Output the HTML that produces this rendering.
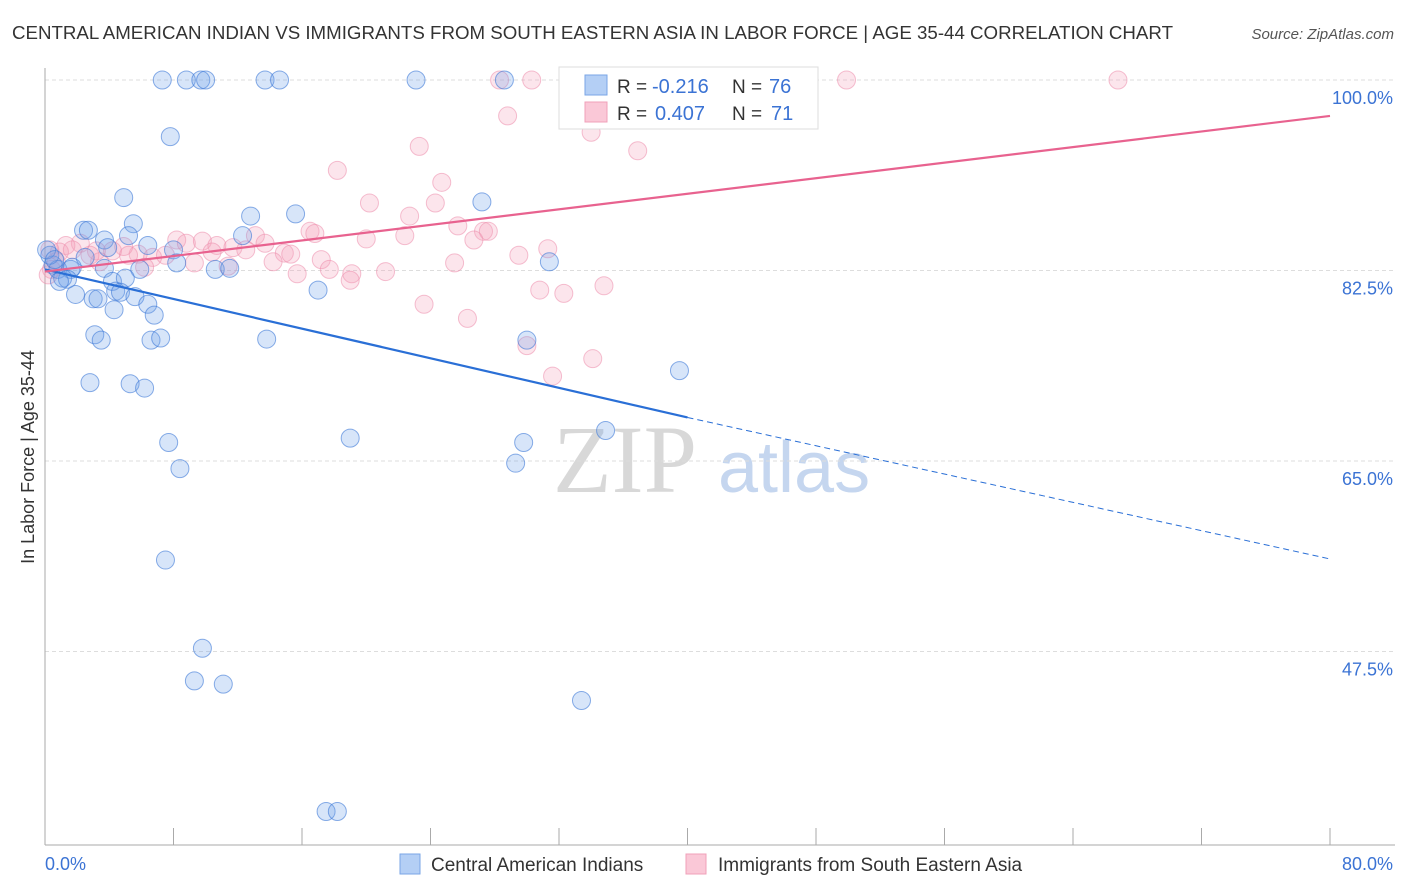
<!DOCTYPE html>
<html><head><meta charset="utf-8"><style>
body{margin:0;background:#fff;font-family:"Liberation Sans",sans-serif;}
svg{display:block}
</style></head><body>
<svg id="chart" width="1406" height="892">
<text x="12" y="39" font-size="18" fill="#333" textLength="1161" lengthAdjust="spacingAndGlyphs">CENTRAL AMERICAN INDIAN VS IMMIGRANTS FROM SOUTH EASTERN ASIA IN LABOR FORCE | AGE 35-44 CORRELATION CHART</text>
<text x="1394" y="39" font-size="15" font-style="italic" fill="#555" text-anchor="end">Source: ZipAtlas.com</text>
<g>
<text x="553" y="492" font-size="96" font-family="Liberation Serif,serif" fill="#d8d8d8">ZIP</text>
<text x="718" y="492" font-size="72" fill="#c5d6ef">atlas</text>
</g>
<g id="grid"></g>
<g id="axes"></g>
<g id="points"></g>
<g id="lines"></g>
<g>
<rect x="559" y="67" width="259" height="62" fill="#fff" stroke="#ddd"/>
<rect x="585" y="75" width="22" height="20" fill="#b4cff5" stroke="#7aa6e6"/>
<text x="617" y="93" font-size="19" fill="#333">R = </text><text x="652" y="93" font-size="20" fill="#3b73d4">-0.216</text>
<text x="732" y="93" font-size="19" fill="#333">N = </text><text x="769" y="93" font-size="20" fill="#3b73d4">76</text>
<rect x="585" y="102" width="22" height="20" fill="#fac8d7" stroke="#f0a0ba"/>
<text x="617" y="120" font-size="19" fill="#333">R = </text><text x="655" y="120" font-size="20" fill="#3b73d4">0.407</text>
<text x="732" y="120" font-size="19" fill="#333">N = </text><text x="771" y="120" font-size="20" fill="#3b73d4">71</text>
</g>
<text transform="translate(34,457) rotate(-90)" font-size="18" fill="#333" text-anchor="middle">In Labor Force | Age 35-44</text>
<text x="45" y="870" font-size="18" fill="#3b73d4">0.0%</text>
<text x="1393" y="870" font-size="18" fill="#3b73d4" text-anchor="end">80.0%</text>
<g>
<rect x="400" y="854" width="20" height="20" fill="#b4cff5" stroke="#7aa6e6"/>
<text x="431" y="871" font-size="19" fill="#333">Central American Indians</text>
<rect x="686" y="854" width="20" height="20" fill="#fac8d7" stroke="#f0a0ba"/>
<text x="718" y="871" font-size="19" fill="#333">Immigrants from South Eastern Asia</text>
</g>
</svg>
<script>
const yTicks=[100,82.5,65,47.5];
const yTickLabels=["100.0%","82.5%","65.0%","47.5%"];
const xTicks=[0,8,16,24,32,40,48,56,64,72,80];
const blueX=[7.3,8.8,9.7,10.0,13.7,14.6,23.1,28.6,7.8,4.9,12.8,15.6,27.2,5.5,2.4,2.7,5.2,3.7,12.3,6.4,3.9,8.0,8.2,31.4,10.6,11.5,3.7,5.9,0.5,0.8,1.6,1.7,1.1,1.4,0.9,2.5,4.2,5.0,1.9,3.0,3.3,4.4,4.7,5.6,6.4,6.8,4.3,17.0,3.1,3.5,6.6,7.2,13.8,30.0,39.5,2.8,5.3,6.2,7.7,19.0,29.8,34.9,8.4,29.3,7.5,9.8,9.3,11.1,33.4,17.5,18.2,0.3,0.1,0.6];
const blueY=[100,100,100,100,100,100,100,100,94.8,89.2,87.5,87.7,88.8,86.8,86.2,86.2,85.7,85.3,85.7,84.8,84.6,84.4,83.2,83.3,82.6,82.7,82.7,82.6,83.0,82.6,82.6,82.8,81.8,81.7,81.5,83.7,81.5,81.8,80.3,79.9,79.9,80.6,80.5,80.1,79.4,78.4,78.9,80.7,76.6,76.1,76.1,76.3,76.2,76.1,73.3,72.2,72.1,71.7,66.7,67.1,66.7,67.8,64.3,64.8,55.9,47.8,44.8,44.5,43.0,32.8,32.8,83.9,84.4,83.5];
const pinkX=[28.3,30.3,43.2,49.9,66.8,28.8,34.0,36.9,23.3,18.2,24.7,20.2,24.3,22.7,25.7,16.5,16.8,22.4,20.0,27.3,27.6,26.7,31.3,29.5,8.2,8.8,9.8,10.7,11.7,13.1,13.7,14.9,15.3,12.5,10.4,5.8,6.7,7.5,4.9,4.2,3.2,2.2,1.3,0.9,1.7,0.3,9.3,11.4,14.2,15.7,17.2,17.7,19.1,19.0,21.2,25.5,30.8,32.3,34.8,23.6,26.3,30.0,31.6,34.1,6.2,5.2,3.4,0.7,0.4,0.2,2.8];
const pinkY=[100,100,100,100,100,96.7,95.2,93.5,93.9,91.7,90.6,88.7,88.7,87.5,86.6,86.1,85.9,85.7,85.4,86.1,86.1,85.3,84.5,83.9,85.3,85.0,85.2,84.8,84.6,85.7,85.0,84.1,84.0,84.4,84.2,84.0,83.7,83.9,84.7,84.3,84.3,85.0,84.8,84.2,84.4,84.4,83.2,82.9,83.3,82.2,83.5,82.6,82.2,81.6,82.4,83.2,80.7,80.4,81.1,79.4,78.1,75.6,72.8,74.4,82.8,83.9,83.3,83.3,82.6,82.1,83.9];
const blueTrend=[82.6,69.0,56.0]; // at x=0,40,80
const pinkTrend=[82.4,96.7]; // at x=0,80
const NS='http://www.w3.org/2000/svg';
function xs(v){return 45+v*(1330-45)/80;}
function ys(v){return 80+(100-v)*190.5/17.5;}
function mk(tag,attrs,parent){const e=document.createElementNS(NS,tag);for(const k in attrs)e.setAttribute(k,attrs[k]);document.getElementById(parent).appendChild(e);return e;}
yTicks.forEach((t,i)=>{
 const l=mk('line',{x1:45,x2:1395,y1:ys(t),y2:ys(t),stroke:'#ddd','stroke-dasharray':'4,3'},'grid');
 
 
 const tx=mk('text',{x:1393,y:ys(t)+24,'font-size':18,fill:'#3b73d4','text-anchor':'end'},'grid');
 tx.textContent=yTickLabels[i];
 
 
});
const ya=mk('line',{x1:45,x2:45,y1:68,y2:845,stroke:'#aaa'},'axes');


const xa=mk('line',{x1:45,x2:1395,y1:845,y2:845,stroke:'#aaa'},'axes');


xTicks.forEach(t=>{
 const l=mk('line',{x1:xs(t),x2:xs(t),y1:828,y2:845,stroke:'#aaa'},'axes');
 
 
});
function pts(X,Y,fill,stroke,name){
 X.forEach((x,i)=>{
  const c=mk('circle',{cx:xs(x),cy:ys(Y[i]),r:9,fill:fill,stroke:stroke,'stroke-width':1},'points');
  
  
 });
}
pts(pinkX,pinkY,'rgba(244,160,188,0.28)','rgba(236,140,172,0.55)','pink-point');
pts(blueX,blueY,'rgba(110,160,232,0.28)','rgba(60,120,215,0.6)','blue-point');
const b1=mk('line',{x1:xs(0),y1:ys(blueTrend[0]),x2:xs(40),y2:ys(blueTrend[1]),stroke:'#2a6fd6','stroke-width':2.2},'lines');


const b2=mk('line',{x1:xs(40),y1:ys(blueTrend[1]),x2:xs(80),y2:ys(blueTrend[2]),stroke:'#2a6fd6','stroke-width':1,'stroke-dasharray':'6,4'},'lines');


const p1=mk('line',{x1:xs(0),y1:ys(pinkTrend[0]),x2:xs(80),y2:ys(pinkTrend[1]),stroke:'#e8628f','stroke-width':2.2},'lines');


</script>
</body></html>
